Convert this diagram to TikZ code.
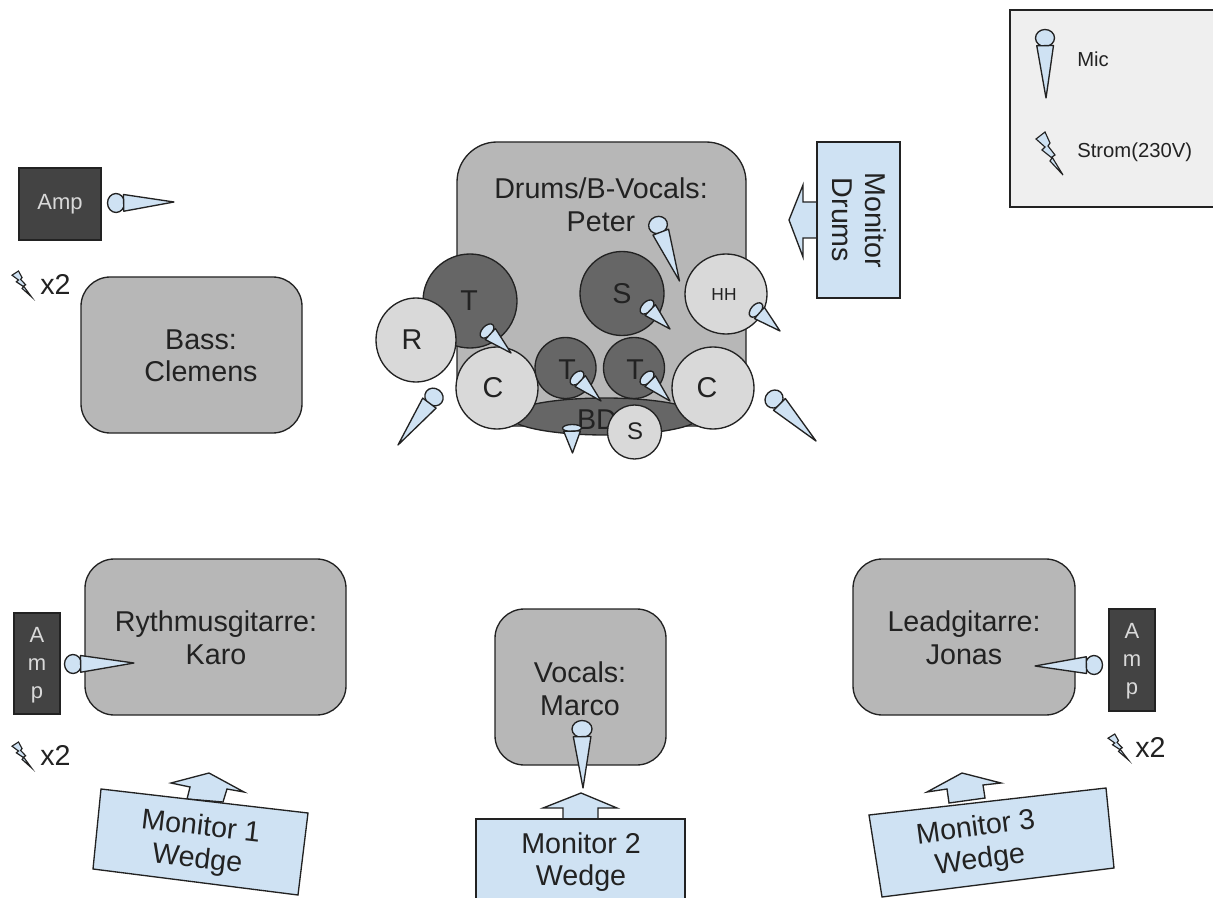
\documentclass[tikz,border=0pt]{standalone}
\usepackage{fontspec}
\setmainfont{Liberation Sans}
\definecolor{boxgrey}{HTML}{B7B7B7}
\definecolor{darkdrum}{HTML}{666666}
\definecolor{lightdrum}{HTML}{D9D9D9}
\definecolor{monblue}{HTML}{CFE2F3}
\definecolor{ampgrey}{HTML}{434343}
\definecolor{legendgrey}{HTML}{EFEFEF}
\definecolor{ink}{HTML}{222222}
\newcommand\micat[6]{% head x, head y, tip x, tip y, head radius across, head radius along
  \pgfmathsetmacro\micL{sqrt((#3-#1)*(#3-#1)+(#4-#2)*(#4-#2))}
  \pgfmathsetmacro\micUx{(#3-#1)/\micL}
  \pgfmathsetmacro\micUy{(#4-#2)/\micL}
  \pgfmathsetmacro\micBx{#1+\micUx*#6*0.9}
  \pgfmathsetmacro\micBy{#2+\micUy*#6*0.9}
  \pgfmathsetmacro\micNx{-\micUy*#5*0.88}
  \pgfmathsetmacro\micNy{\micUx*#5*0.88}
  \pgfmathsetmacro\micA{atan2(-\micUy,\micUx)}
  \draw[thing,fill=monblue,shift={(#1,#2)},rotate=\micA] (0,0) ellipse[x radius=#6,y radius=#5];
  \draw[thing,fill=monblue,line join=round] (\micBx+\micNx,\micBy+\micNy) -- (#3,#4) -- (\micBx-\micNx,\micBy-\micNy) -- cycle;
}
\newcommand\boltat[4]{% x, y, xscale, yscale
  \begin{scope}[shift={(#1,#2)},xscale=#3,yscale=#4]
    \draw[thing,fill=monblue,line join=miter,line width=0.85pt] (0,7) -- (9,0) -- (14,11) -- (12,14) -- (19,23) -- (16,25) -- (27,43) -- (14,29) -- (16,26) -- (6,18) -- (9,15) -- cycle;
  \end{scope}
}
\tikzset{
  x=0.75pt,y=-0.75pt,
  thing/.style={draw=ink,line width=1pt},
  band/.style={thing,fill=boxgrey,rounded corners=22pt},
  drumdark/.style={thing,fill=darkdrum},
  drumlight/.style={thing,fill=lightdrum},
  ampbox/.style={thing,fill=ampgrey},
  monitor/.style={thing,fill=monblue,line join=miter},
  txt/.style={inner sep=0pt,align=center,text=ink,font=\fontsize{21.5}{24.4}\selectfont},
  smalltxt/.style={inner sep=0pt,text=ink,font=\fontsize{15.2}{17}\selectfont},
  amptxt/.style={inner sep=0pt,align=center,text=lightdrum,font=\fontsize{16.5}{21}\selectfont},
}
\begin{document}
\begin{tikzpicture}
\useasboundingbox (0,0) rectangle (1213,898);
\clip (0,0) rectangle (1213,898);
% legend
\draw[thing,fill=legendgrey] (1010,10) rectangle (1230,207);
\micat{1045}{38}{1046}{98}{9.5}{8.5}
\boltat{1036}{132}{1}{1}
\node[smalltxt,anchor=base west] (lmic) at (1077,67) {Mic};
\node[smalltxt,anchor=base west] (lstrom) at (1077,158) {Strom(230V)};
% bass
\draw[ampbox] (19,168) rectangle (101,240);
\node[amptxt] (amp1) at (60,204) {Amp};
\micat{116}{203}{174}{202}{9.5}{8.5}
\boltat{12}{271}{0.72}{0.6}
\node[txt,anchor=base west] (x2a) at (40,295) {x2};
\draw[band] (81,277) rectangle (302,433);
\node[txt] (bass) at (201,356) {Bass:\\Clemens};
% drums
\draw[band,rounded corners=30pt] (457,142) rectangle (746,426);
\node[txt] (drums) at (601,205) {Drums/B-Vocals:\\Peter};
\draw[drumdark] (605,416.5) ellipse[x radius=95,y radius=18.5];
\node[txt] (bd) at (597,420) {BD};
\draw[drumdark] (470,301) circle[radius=47];
\node[txt] (t1) at (469,301) {T};
\draw[drumlight] (416,340) ellipse[x radius=40,y radius=42];
\node[txt] (r) at (412,340) {R};
\draw[drumlight] (497,388) circle[radius=41];
\node[txt] (c1) at (493,388) {C};
\draw[drumdark] (565.5,368) circle[radius=30.5];
\node[txt] (t2) at (567,370) {T};
\draw[drumdark] (634,368) circle[radius=30.5];
\node[txt] (t3) at (635,370) {T};
\draw[drumdark] (622,293.5) circle[radius=42];
\node[txt] (s1) at (622,294) {S};
\draw[drumlight] (726,294) ellipse[x radius=41,y radius=40];
\node[smalltxt,font=\fontsize{13}{15}\selectfont] (hh) at (724,295) {HH};
\draw[drumlight] (713,388) circle[radius=41];
\node[txt] (c2) at (707,388) {C};
\micat{572}{428}{572.5}{453}{9.5}{3.5}
\draw[drumlight] (634.5,432) circle[radius=27];
\node[txt,font=\fontsize{18}{21}\selectfont] (s2) at (635,431) {S};
\micat{658}{225}{679.5}{281}{9.5}{8.5}
\micat{647}{307}{670}{329}{8.5}{5}
\micat{756}{310}{780}{331}{8.5}{5}
\micat{487}{331}{511}{353}{8.5}{5}
\micat{577}{378}{601}{401}{8.5}{5}
\micat{647}{378}{670}{401}{8.5}{5}
\micat{434}{397}{398}{445}{9.5}{8.5}
\micat{774}{399}{816}{441}{9.5}{8.5}
% monitor drums
\draw[monitor] (817,202) -- (803,202) -- (803,185) -- (789,220) -- (803,257) -- (803,238) -- (817,238) -- cycle;
\draw[monitor] (817,142) rectangle (900,298);
\node[txt,rotate=-90] (mdrums) at (859,220) {Monitor\\Drums};
% rhythm guitar
\draw[band] (85,559) rectangle (346,715);
\node[txt] (karo) at (216,638) {Rythmusgitarre:\\Karo};
\draw[ampbox] (14,613) rectangle (60,714);
\node[amptxt] (amp2) at (37,665) {A\\m\\p};
\micat{73}{664}{134}{663}{9.5}{8.5}
\boltat{12}{742}{0.72}{0.6}
\node[txt,anchor=base west] (x2b) at (40,765) {x2};
% monitor 1
\draw[monitor] (187,799) -- (190,787) -- (171,783) -- (209,773) -- (244,792) -- (227,789) -- (223,802) -- cycle;
\draw[monitor] (101,789) -- (308,813) -- (298,895) -- (93,869) -- cycle;
\node[txt,rotate=-6.6] (m1) at (199,844) {Monitor 1\\Wedge};
% vocals
\draw[band] (495,609) rectangle (666,765);
\node[txt] (marco) at (580,689) {Vocals:\\Marco};
\micat{582}{729}{583}{788}{10}{8.5}
% monitor 2
\draw[monitor] (563,819) -- (563,808) -- (543,808) -- (581,793) -- (617,808) -- (598,808) -- (598,819) -- cycle;
\draw[monitor] (476,819) rectangle (685,930);
\node[txt] (m2) at (581,862) {Monitor 2\\Wedge};
% lead guitar
\draw[band] (853,559) rectangle (1075,715);
\node[txt] (jonas) at (964,638) {Leadgitarre:\\Jonas};
\draw[ampbox] (1109,609) rectangle (1155,711);
\node[amptxt] (amp3) at (1132,661) {A\\m\\p};
\micat{1094}{665}{1035}{666}{9.5}{8.5}
\boltat{1108}{734}{0.75}{0.6}
\node[txt,anchor=base west] (x2c) at (1135,757) {x2};
% monitor 3
\draw[monitor] (949,803) -- (947,789) -- (927,792) -- (962,773) -- (1001,783) -- (983,785) -- (985,798) -- cycle;
\draw[monitor] (869,815) -- (1106,788) -- (1114,868) -- (882,897) -- cycle;
\node[txt,rotate=7.5] (m3) at (978,845) {Monitor 3\\Wedge};
\end{tikzpicture}
\end{document}
